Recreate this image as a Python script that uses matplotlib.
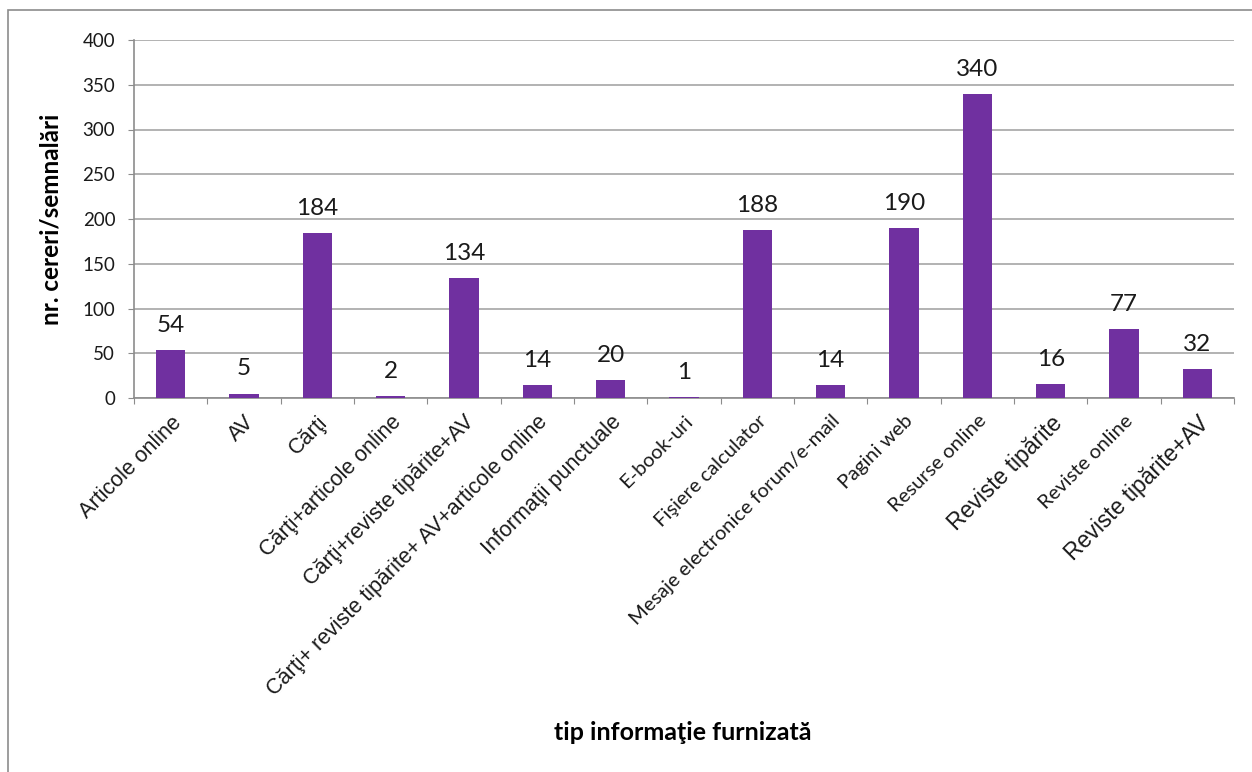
import matplotlib.pyplot as plt
import numpy as np
from matplotlib.patches import Rectangle

categories = ['Articole online', 'AV', 'Cărţi', 'Cărţi+articole online',
              'Cărţi+reviste tipărite+AV', 'Cărţi+ reviste tipărite+ AV+articole online',
              'Informaţii punctuale', 'E-book-uri', 'Fişiere calculator',
              'Mesaje electronice forum/e-mail', 'Pagini web', 'Resurse online',
              'Reviste tipărite', 'Reviste online', 'Reviste tipărite+AV']
values = [54, 5, 184, 2, 134, 14, 20, 1, 188, 14, 190, 340, 16, 77, 32]
# font of each tick label in the original (a = Arial-like, c = Calibri-like, A = larger Arial)
label_fonts = ['a', 'a', 'a', 'a', 'a', 'a', 'a', 'c', 'c', 'c', 'c', 'c', 'A', 'c', 'A']

plt.rcParams['font.family'] = ['Lato', 'DejaVu Sans']
arial = ['Liberation Sans', 'DejaVu Sans']

fig = plt.figure(figsize=(12.52, 7.72), dpi=100)
fig.patches.append(Rectangle((8 / 1252, -0.1), 1.2, 1 - 10 / 772 + 0.1,
                             transform=fig.transFigure, fill=False,
                             edgecolor='#8c8c8c', linewidth=1.2))
ax = fig.add_axes([134 / 1252, 1 - 398 / 772, 1100 / 1252, 358 / 772])

x = np.arange(len(categories))
ax.bar(x, values, width=0.4, color='#7030A0', zorder=3)
for xi, v in zip(x, values):
    ax.annotate(str(v), (xi, v), xytext=(0, 13), textcoords='offset points',
                ha='center', va='baseline', fontsize=17.5, color='#1a1a1a')

ax.set_xlim(-0.5, len(categories) - 0.5)
ax.set_ylim(0, 400)
ax.set_yticks(np.arange(0, 401, 50))
ax.yaxis.grid(True, color='#a6a6a6', linewidth=1.2, zorder=0)
ax.tick_params(axis='y', length=4.5, color='#8c8c8c', labelsize=13.5, pad=9,
               labelcolor='#1a1a1a')

ax.set_xticks(np.arange(-0.5, len(categories), 1.0))
ax.set_xticklabels([])
ax.tick_params(axis='x', length=4.5, color='#8c8c8c')
ax.set_xticks(x, minor=True)
ax.set_xticklabels(categories, minor=True, rotation=45, ha='right',
                   rotation_mode='anchor')
ax.tick_params(axis='x', which='minor', length=0, pad=10)
for lab, f in zip(ax.get_xticklabels(minor=True), label_fonts):
    if f == 'c':
        lab.set_fontsize(14.5)
    elif f == 'A':
        lab.set_family(arial)
        lab.set_fontsize(16.5)
    else:
        lab.set_family(arial)
        lab.set_fontsize(15.5)
    lab.set_color('#1a1a1a')

for s in ['top', 'right']:
    ax.spines[s].set_visible(False)
for s in ['left', 'bottom']:
    ax.spines[s].set_color('#8c8c8c')
    ax.spines[s].set_linewidth(1.2)

ax.set_ylabel('nr. cereri/semnalări', fontsize=17.5, fontweight='bold',
              labelpad=14)
fig.text(683 / 1252, 1 - 732 / 772, 'tip informaţie furnizată', ha='center',
         va='center', fontsize=18, fontweight='bold')

fig.savefig('out.png', dpi=100)
